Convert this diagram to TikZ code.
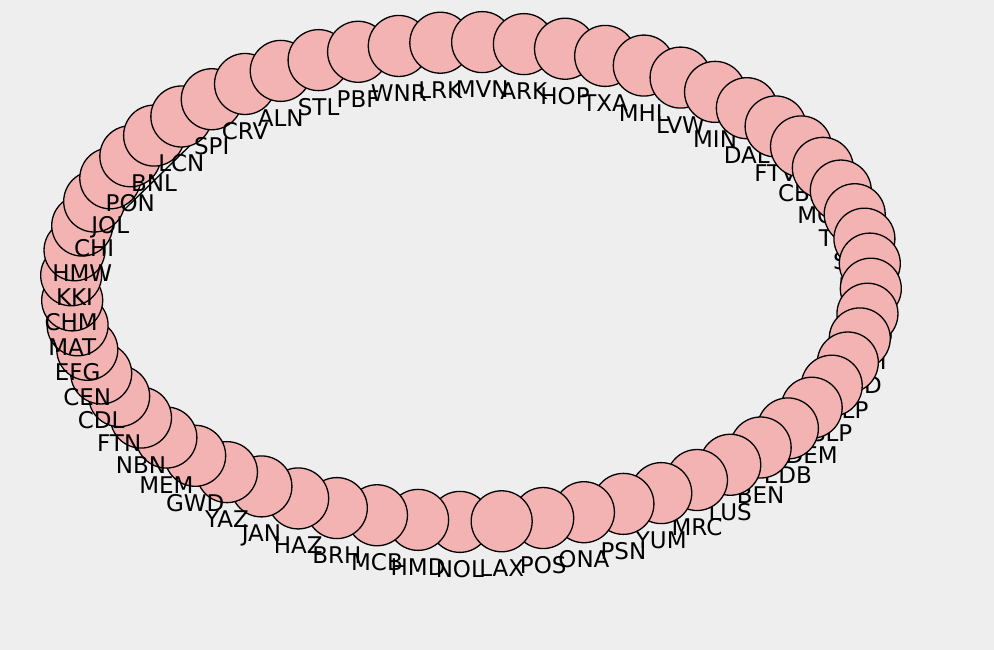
\documentclass[tikz,border=0pt]{standalone}
\usepackage{fontspec}
\setmainfont{DejaVu Sans}
\definecolor{bgcol}{HTML}{EEEEEE}
\definecolor{nodepink}{HTML}{F4B3B3}
\begin{document}
\begin{tikzpicture}[x=1pt,y=-1pt,
  vtx/.style={circle,draw=black,fill=nodepink,line width=1.3pt,minimum size=61pt,inner sep=0pt},
  lbl/.style={anchor=base,inner sep=0pt,font=\fontsize{23}{27}\selectfont},
  link/.style={draw=black,line width=1.3pt}]
\fill[bgcol] (0,0) rectangle (994,650);
\useasboundingbox (0,0) rectangle (994,650);
\foreach \k in {1,...,60} {
  \coordinate (p\k) at ({471+400*cos(85.6+6*\k)},{282+240*sin(85.6+6*\k)});
}
\draw[link] ([shift={(4,4)}]p17) -- ([shift={(4,4)}]p25);
\foreach \k/\t in {1/NOL,2/HMD,3/MCB,4/BRH,5/HAZ,6/JAN,7/YAZ,8/GWD,9/MEM,10/NBN,
  11/FTN,12/CDL,13/CEN,14/EFG,15/MAT,16/CHM,17/KKI,18/HMW,19/CHI,20/JOL,
  21/PON,22/BNL,23/LCN,24/SPI,25/CRV,26/ALN,27/STL,28/PBF,29/WNR,30/LRK,
  31/MVN,32/ARK,33/HOP,34/TXA,35/MHL,36/LVW,37/MIN,38/DAL,39/FTV,40/CBS,
  41/MCK,42/TUL,43/SAT,44/HOU,45/AUS,46/ELD,47/ABI,48/MID,49/ELP,50/SLP,
  51/DEM,52/EDB,53/BEN,54/LUS,55/MRC,56/YUM,57/PSN,58/ONA,59/POS,60/LAX} {
  \node[vtx] (n\k) at (p\k) {};
  \node[lbl] (l\k) at ([yshift=-55.5pt]p\k) {\t};
}
\end{tikzpicture}
\end{document}
